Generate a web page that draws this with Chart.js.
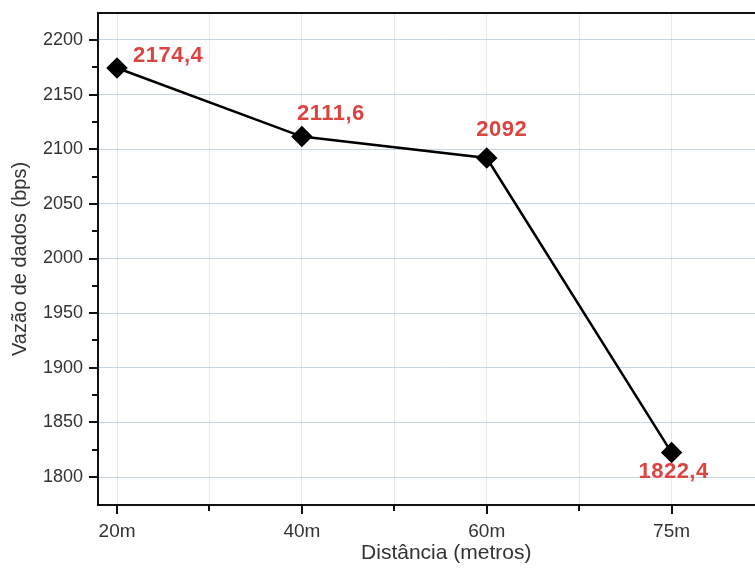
<!DOCTYPE html>
<html>
<head>
<meta charset="utf-8">
<script src="https://cdn.jsdelivr.net/npm/chart.js@4"></script>
<style>
  html, body { margin: 0; padding: 0; background: #fff; overflow: hidden; }
  #wrap { width: 806px; height: 568px; }
</style>
</head>
<body>
<div id="wrap"><canvas id="myChart" width="806" height="568"></canvas></div>
<script>
"use strict";

const categories = ["20m", "40m", "60m", "75m"];
const throughput = [2174.4, 2111.6, 2092, 1822.4];
const valueLabels = ["2174,4", "2111,6", "2092", "1822,4"];
const yTicks = [1800, 1850, 1900, 1950, 2000, 2050, 2100, 2150, 2200];

// label offsets from each marker: dx, dy, align
const labelPos = [
  [16, -12, "left"],
  [29, -23, "center"],
  [15, -28, "center"],
  [2, 19, "center"],
];

const FONT = "'Liberation Sans', Arial, sans-serif";

const extras = {
  id: "extras",
  afterDraw(chart) {
    const ctx = chart.ctx;
    const area = chart.chartArea;
    const xs = chart.scales.x;
    const ys = chart.scales.y;
    ctx.save();
    ctx.strokeStyle = "#111";
    ctx.lineWidth = 2;
    // top border
    ctx.beginPath();
    ctx.moveTo(area.left - 1, area.top);
    ctx.lineTo(area.right, area.top);
    ctx.stroke();
    // x tick marks
    for (let v = 0; v <= 3.5; v += 0.5) {
      const px = Math.round(xs.getPixelForValue(v));
      const len = Number.isInteger(v) ? 9 : 6;
      ctx.beginPath();
      ctx.moveTo(px, area.bottom);
      ctx.lineTo(px, area.bottom + len);
      ctx.stroke();
    }
    // y tick marks
    for (let v = 1800; v <= 2200; v += 25) {
      const py = Math.round(ys.getPixelForValue(v));
      const len = v % 50 === 0 ? 9 : 6;
      ctx.beginPath();
      ctx.moveTo(area.left, py);
      ctx.lineTo(area.left - len, py);
      ctx.stroke();
    }
    // value labels
    const meta = chart.getDatasetMeta(0);
    ctx.font = "bold 22px " + FONT;
    ctx.fillStyle = "#dc4442";
    ctx.textBaseline = "middle";
    ctx.letterSpacing = "0.5px";
    meta.data.forEach((pt, i) => {
      const [dx, dy, align] = labelPos[i];
      ctx.textAlign = align;
      ctx.fillText(valueLabels[i], pt.x + dx, pt.y + dy);
    });
    ctx.restore();
  },
};

const ctx = document.getElementById("myChart").getContext("2d");
const myChart = new Chart(ctx, {
  type: "line",
  data: {
    datasets: [
      {
        data: throughput.map((v, i) => ({ x: i, y: v })),
        borderColor: "#000",
        borderWidth: 2.5,
        pointStyle: "rectRot",
        pointRadius: 9,
        pointBackgroundColor: "#000",
        pointBorderColor: "#000",
        tension: 0,
      },
    ],
  },
  options: {
    responsive: false,
    animation: false,
    layout: { padding: { top: 13, left: 0, right: 0, bottom: 0 } },
    plugins: { legend: { display: false }, tooltip: { enabled: false } },
    scales: {
      x: {
        type: "linear",
        min: -0.103,
        max: 3.665,
        afterBuildTicks: (s) => {
          s.ticks = [0, 0.5, 1, 1.5, 2, 2.5, 3, 3.5].map((v) => ({ value: v }));
        },
        afterFit: (s) => {
          s.height = 63;
        },
        ticks: {
          autoSkip: false,
          maxRotation: 0,
          padding: 6,
          color: "#333",
          font: { family: FONT, size: 19 },
          callback: (v) => (Number.isInteger(v) ? categories[v] : ""),
        },
        grid: {
          color: "rgba(200,215,232,0.55)",
          lineWidth: 1,
          tickLength: 9,
          tickColor: "transparent",
        },
        border: { color: "#111", width: 2 },
        title: {
          display: true,
          text: "Distância (metros)",
          color: "#333",
          font: { family: FONT, size: 21 },
          padding: { top: 0, bottom: 2 },
        },
      },
      y: {
        min: 1774.4,
        max: 2224.7,
        afterBuildTicks: (s) => {
          s.ticks = yTicks.map((v) => ({ value: v }));
        },
        afterFit: (s) => {
          s.width = 98;
          s.paddingTop = 0;
          s.paddingBottom = 0;
        },
        ticks: {
          padding: 6,
          color: "#333",
          font: { family: FONT, size: 18 },
          callback: (v) => String(v),
        },
        grid: {
          color: "rgba(180,200,220,0.75)",
          lineWidth: 1,
          tickLength: 9,
          tickColor: "transparent",
        },
        border: { color: "#111", width: 2 },
        title: {
          display: true,
          text: "Vazão de dados (bps)",
          color: "#333",
          font: { family: FONT, size: 20 },
          padding: { top: 8, bottom: 0 },
        },
      },
    },
  },
  plugins: [extras],
});
</script>
</body>
</html>
